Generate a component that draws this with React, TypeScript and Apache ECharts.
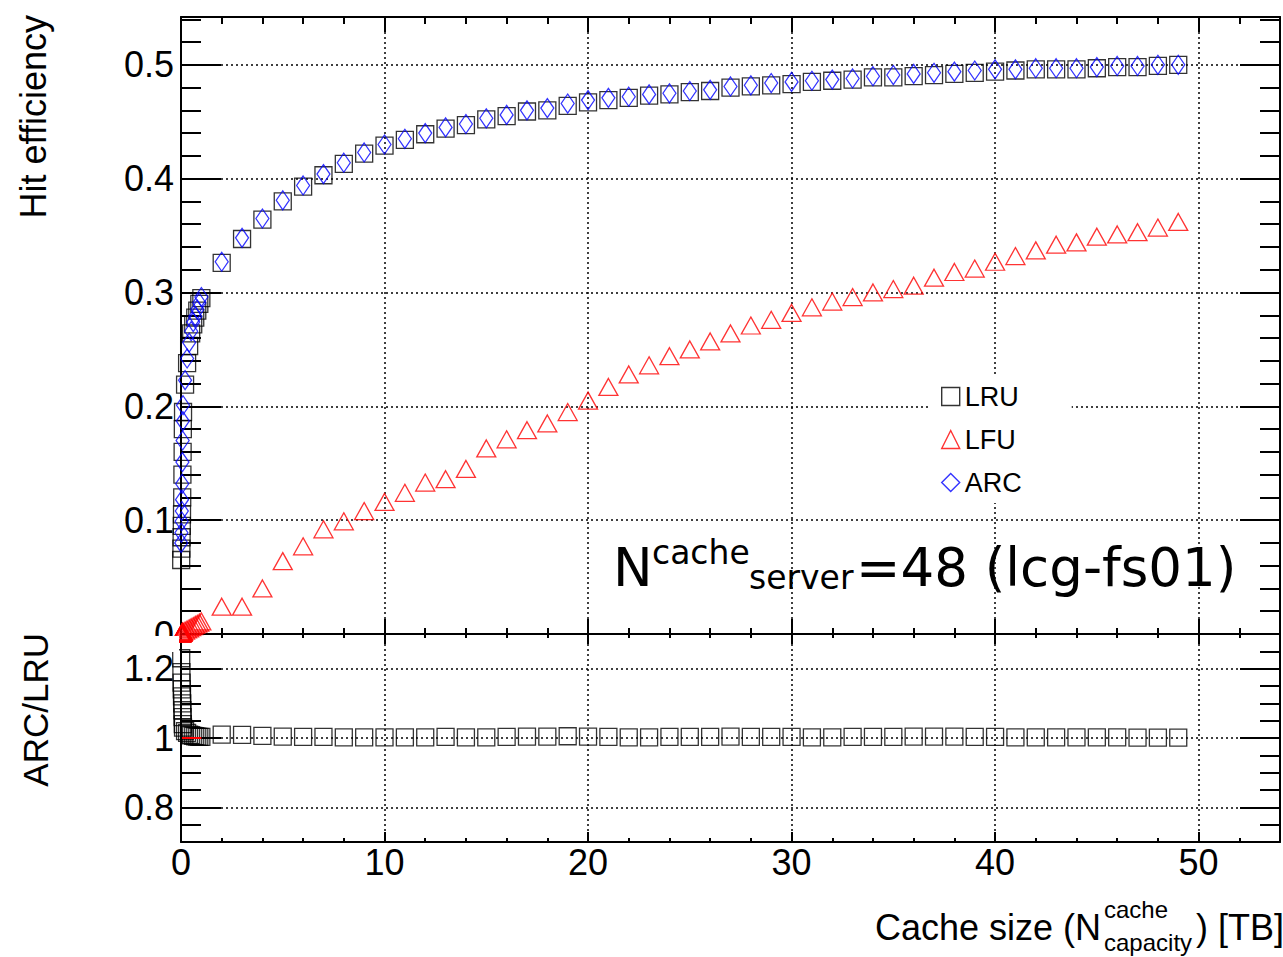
import React, { useEffect, useRef } from "react";
import * as echarts from "echarts";

// ---------------- data ----------------
const cacheSizeTB = [
  0.01, 0.02, 0.03, 0.04, 0.05, 0.06, 0.07, 0.08, 0.09, 0.1,
  0.2, 0.3, 0.4, 0.5, 0.6, 0.7, 0.8, 0.9, 1,
  2, 3, 4, 5, 6, 7, 8, 9, 10, 11, 12, 13, 14, 15, 16, 17, 18, 19, 20,
  21, 22, 23, 24, 25, 26, 27, 28, 29, 30, 31, 32, 33, 34, 35, 36, 37, 38, 39, 40,
  41, 42, 43, 44, 45, 46, 47, 48, 49,
];

const lruEff = [
  0.065, 0.075, 0.085, 0.095, 0.105, 0.12, 0.14, 0.16, 0.18, 0.195,
  0.219, 0.238, 0.253, 0.264, 0.272, 0.278, 0.284, 0.29, 0.295,
  0.326, 0.347, 0.364, 0.38, 0.393, 0.403, 0.413, 0.422, 0.429, 0.434, 0.439, 0.444, 0.447, 0.452, 0.455, 0.459, 0.46, 0.464, 0.467,
  0.469, 0.471, 0.473, 0.474, 0.476, 0.477, 0.48, 0.481, 0.482, 0.483, 0.485, 0.486, 0.487, 0.489, 0.489, 0.49, 0.491, 0.492, 0.493, 0.494,
  0.495, 0.496, 0.496, 0.496, 0.497, 0.498, 0.498, 0.499, 0.5,
];

const lfuEff = [
  0.0, 0.0, 0.001, 0.001, 0.001, 0.001, 0.001, 0.002, 0.002, 0.002,
  0.003, 0.004, 0.005, 0.006, 0.007, 0.008, 0.009, 0.01, 0.011,
  0.024, 0.024, 0.04, 0.064, 0.077, 0.092, 0.099, 0.108, 0.116, 0.124, 0.133, 0.136, 0.145, 0.163, 0.171, 0.179, 0.185, 0.195, 0.205,
  0.217, 0.228, 0.236, 0.244, 0.25, 0.257, 0.264, 0.271, 0.276, 0.282, 0.287, 0.292, 0.296, 0.3, 0.303, 0.306, 0.313, 0.318, 0.321, 0.327,
  0.332, 0.337, 0.342, 0.344, 0.349, 0.351, 0.353, 0.357, 0.362,
];

const arcEff = [
  0.08, 0.089, 0.099, 0.108, 0.118, 0.132, 0.151, 0.17, 0.187, 0.201,
  0.223, 0.242, 0.256, 0.266, 0.274, 0.279, 0.285, 0.291, 0.296,
  0.327, 0.348, 0.365, 0.381, 0.394, 0.404, 0.414, 0.423, 0.43, 0.435, 0.44, 0.445, 0.448, 0.453, 0.456, 0.46, 0.462, 0.466, 0.469,
  0.471, 0.472, 0.474, 0.475, 0.477, 0.478, 0.481, 0.482, 0.484, 0.485, 0.486, 0.487, 0.488, 0.49, 0.491, 0.492, 0.493, 0.494, 0.495, 0.496,
  0.496, 0.497, 0.497, 0.497, 0.498, 0.499, 0.499, 0.5, 0.5,
];

const arcOverLru = [
  1.23, 1.19, 1.16, 1.14, 1.12, 1.1, 1.08, 1.06, 1.04, 1.03,
  1.02, 1.015, 1.01, 1.008, 1.006, 1.005, 1.004, 1.003, 1.003,
  1.01, 1.009, 1.006, 1.004, 1.003, 1.003, 1.002, 1.002, 1.002, 1.002, 1.002, 1.003, 1.002, 1.002, 1.003, 1.004, 1.004, 1.005, 1.004,
  1.003, 1.002, 1.002, 1.003, 1.003, 1.003, 1.004, 1.003, 1.003, 1.003, 1.002, 1.002, 1.003, 1.003, 1.003, 1.004, 1.004, 1.004, 1.003, 1.003,
  1.002, 1.002, 1.002, 1.002, 1.002, 1.002, 1.001, 1.001, 1.001,
];

const fitRange = [0.05, 1];
const fitValue = 1;

const ratioTickValues = [0.8, 1, 1.2];

const seriesNames = ["LRU", "LFU", "ARC"];

// ---------------- layout / style ----------------
const FONT = "Liberation Sans";
const LATEX_FONT = "DejaVu Sans";
const X_MIN = 0;
const X_MAX = 54;
const EFF_MAX = 0.542;
const R_MIN = 0.7;
const R_MAX = 1.3;
const gridLine = { color: "#000", width: 1.5, type: [2, 3] as number[] };
const frame = { show: true, onZero: false, lineStyle: { color: "#000", width: 2 } };
const noLine = { show: false, onZero: false };

function tickAxis(opts: any) {
  const {
    gridIndex, position, min, max, interval, len, major, labels, split, customValues, labelMargin,
  } = opts;
  const a: any = {
    type: "value",
    gridIndex,
    position,
    min,
    max,
    axisLine: major ? frame : noLine,
    axisTick: {
      show: true,
      inside: true,
      length: len,
      lineStyle: { color: "#000", width: 2 },
    },
    axisLabel: labels
      ? {
          show: true,
          fontSize: 36,
          fontFamily: FONT,
          color: "#000",
          margin: labelMargin,
          showMaxLabel: customValues ? true : false,
        }
      : { show: false },
    splitLine: split ? { show: true, lineStyle: gridLine } : { show: false },
  };
  if (interval !== undefined) a.interval = interval;
  if (customValues) {
    a.axisTick.customValues = customValues;
    if (labels) a.axisLabel.customValues = customValues;
  }
  return a;
}

const emptyFill = "rgba(0,0,0,0)";

export default function App() {
  const ref = useRef<HTMLDivElement>(null);

  useEffect(() => {
    if (!ref.current) return;
    const chart = echarts.init(ref.current, null, { renderer: "svg" });

    const pts = (ys: number[]) => cacheSizeTB.map((x, i) => [x, ys[i]]);

    const option: any = {
      animation: false,
      textStyle: { fontFamily: FONT },
      grid: [
        { left: 181, top: 17, width: 1099, height: 617 },
        { left: 181, top: 634, width: 1099, height: 208 },
      ],
      xAxis: [
        tickAxis({ gridIndex: 0, position: "bottom", min: X_MIN, max: X_MAX, interval: 10, len: 15, major: true, split: true }),
        tickAxis({ gridIndex: 0, position: "bottom", min: X_MIN, max: X_MAX, interval: 2, len: 6 }),
        tickAxis({ gridIndex: 0, position: "top", min: X_MIN, max: X_MAX, interval: 10, len: 15, major: true }),
        tickAxis({ gridIndex: 0, position: "top", min: X_MIN, max: X_MAX, interval: 2, len: 7 }),
        tickAxis({ gridIndex: 1, position: "bottom", min: X_MIN, max: X_MAX, interval: 10, len: 10, major: true, split: true, labels: true, labelMargin: 2 }),
        tickAxis({ gridIndex: 1, position: "bottom", min: X_MIN, max: X_MAX, interval: 2, len: 4 }),
        tickAxis({ gridIndex: 1, position: "top", min: X_MIN, max: X_MAX, interval: 10, len: 10, major: true }),
        tickAxis({ gridIndex: 1, position: "top", min: X_MIN, max: X_MAX, interval: 2, len: 4 }),
      ],
      yAxis: [
        tickAxis({ gridIndex: 0, position: "left", min: 0, max: EFF_MAX, interval: 0.1, len: 40, major: true, split: true, labels: true, labelMargin: 7 }),
        tickAxis({ gridIndex: 0, position: "left", min: 0, max: EFF_MAX, interval: 0.02, len: 20 }),
        tickAxis({ gridIndex: 0, position: "right", min: 0, max: EFF_MAX, interval: 0.1, len: 40, major: true }),
        tickAxis({ gridIndex: 0, position: "right", min: 0, max: EFF_MAX, interval: 0.02, len: 20 }),
        tickAxis({ gridIndex: 1, position: "left", min: R_MIN, max: R_MAX, len: 40, major: true, labels: true, labelMargin: 7, customValues: ratioTickValues }),
        tickAxis({ gridIndex: 1, position: "left", min: R_MIN, max: R_MAX, interval: 0.05, len: 20 }),
        tickAxis({ gridIndex: 1, position: "right", min: R_MIN, max: R_MAX, len: 40, major: true, customValues: ratioTickValues }),
        tickAxis({ gridIndex: 1, position: "right", min: R_MIN, max: R_MAX, interval: 0.05, len: 20 }),
      ],
      legend: {
        orient: "vertical",
        left: 930,
        top: 376,
        padding: [7, 50, 7, 11],
        itemGap: 16,
        itemWidth: 18,
        itemHeight: 18,
        backgroundColor: "#fff",
        selectedMode: false,
        textStyle: { fontSize: 27, fontFamily: FONT, color: "#000" },
        data: [
          { name: seriesNames[0], icon: "rect", itemStyle: { color: emptyFill, borderColor: "#000", borderWidth: 1.4 } },
          { name: seriesNames[1], icon: "triangle", itemStyle: { color: emptyFill, borderColor: "#ff0000", borderWidth: 1.4 } },
          { name: seriesNames[2], icon: "diamond", itemStyle: { color: emptyFill, borderColor: "#0000ff", borderWidth: 1.4 } },
        ],
      },
      series: [
        {
          name: seriesNames[0],
          type: "scatter",
          xAxisIndex: 0,
          yAxisIndex: 0,
          symbol: "rect",
          symbolSize: 17,
          silent: true,
          itemStyle: { color: emptyFill, borderColor: "#000", borderWidth: 1.3 },
          data: pts(lruEff),
        },
        {
          name: seriesNames[1],
          type: "scatter",
          xAxisIndex: 0,
          yAxisIndex: 0,
          symbol: "triangle",
          symbolSize: [19, 17],
          silent: true,
          itemStyle: { color: emptyFill, borderColor: "#ff0000", borderWidth: 1.3 },
          data: pts(lfuEff),
        },
        {
          name: seriesNames[2],
          type: "scatter",
          xAxisIndex: 0,
          yAxisIndex: 0,
          symbol: "diamond",
          symbolSize: [13, 19],
          silent: true,
          itemStyle: { color: emptyFill, borderColor: "#0000ff", borderWidth: 1.3 },
          data: pts(arcEff),
        },
        {
          name: "ARC/LRU",
          type: "scatter",
          xAxisIndex: 4,
          yAxisIndex: 4,
          symbol: "rect",
          symbolSize: 17,
          silent: true,
          itemStyle: { color: emptyFill, borderColor: "#000", borderWidth: 1.3 },
          data: pts(arcOverLru),
          markLine: {
            silent: true,
            symbol: "none",
            label: { show: false },
            lineStyle: gridLine,
            z: 0,
            data: ratioTickValues.map((v) => ({ yAxis: v })),
          },
        },
        {
          name: "fit",
          type: "line",
          xAxisIndex: 4,
          yAxisIndex: 4,
          showSymbol: false,
          silent: true,
          lineStyle: { color: "#ff0000", width: 2 },
          data: fitRange.map((x) => [x, fitValue]),
          z: 3,
        },
      ],
      graphic: [
        // cover the lower half of the top panel "0" label (clipped in original)
        { type: "rect", z: 100, shape: { x: 120, y: 636, width: 59, height: 16 }, style: { fill: "#fff" } },
        {
          type: "text", x: 33, y: 15, rotation: Math.PI / 2, z: 100,
          style: { text: "Hit efficiency", fontSize: 36, fontFamily: FONT, fill: "#000", align: "right", verticalAlign: "middle" },
        },
        {
          type: "text", x: 35, y: 633, rotation: Math.PI / 2, z: 100,
          style: { text: "ARC/LRU", fontSize: 35, fontFamily: FONT, fill: "#000", align: "right", verticalAlign: "middle" },
        },
        {
          type: "text", x: 1101, y: 927, z: 100,
          style: { text: "Cache size (N", fontSize: 36, fontFamily: FONT, fill: "#000", align: "right", verticalAlign: "middle" },
        },
        {
          type: "text", x: 1104, y: 909, z: 100,
          style: { text: "cache", fontSize: 24, fontFamily: FONT, fill: "#000", align: "left", verticalAlign: "middle" },
        },
        {
          type: "text", x: 1104, y: 942, z: 100,
          style: { text: "capacity", fontSize: 24, fontFamily: FONT, fill: "#000", align: "left", verticalAlign: "middle" },
        },
        {
          type: "text", x: 1196, y: 927, z: 100,
          style: { text: ") [TB]", fontSize: 36, fontFamily: FONT, fill: "#000", align: "left", verticalAlign: "middle" },
        },
        {
          type: "text", x: 613, y: 567, z: 100,
          style: { text: "N", fontSize: 53, fontFamily: LATEX_FONT, fill: "#000", align: "left", verticalAlign: "middle" },
        },
        {
          type: "text", x: 652, y: 552, z: 100,
          style: { text: "cache", fontSize: 33, fontFamily: LATEX_FONT, fill: "#000", align: "left", verticalAlign: "middle" },
        },
        {
          type: "text", x: 749, y: 577, z: 100,
          style: { text: "server", fontSize: 33, fontFamily: LATEX_FONT, fill: "#000", align: "left", verticalAlign: "middle" },
        },
        {
          type: "text", x: 856, y: 567, z: 100,
          style: { text: "=48 (lcg-fs01)", fontSize: 53, fontFamily: LATEX_FONT, fill: "#000", align: "left", verticalAlign: "middle" },
        },
      ],
    };

    chart.setOption(option);
    return () => chart.dispose();
  }, []);

  return (
    <div
      ref={ref}
      style={{ position: "fixed", left: 0, top: 0, width: 1283, height: 957, background: "#fff" }}
    />
  );
}
